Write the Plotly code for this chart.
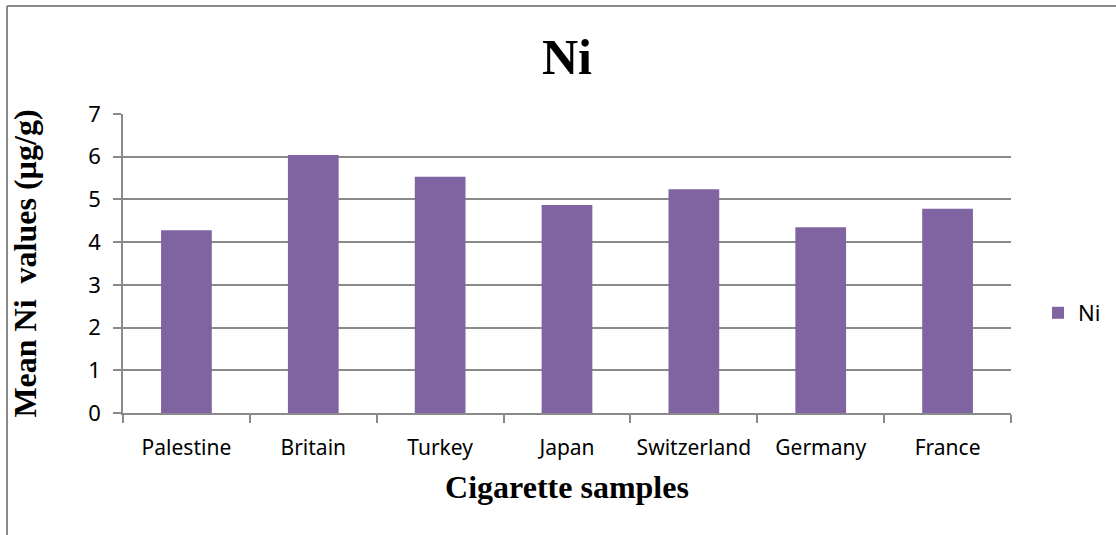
import plotly.graph_objects as go

categories = ["Palestine", "Britain", "Turkey", "Japan", "Switzerland", "Germany", "France"]
ni_values = [4.28, 6.04, 5.53, 4.87, 5.24, 4.35, 4.78]
y_ticks = [0, 1, 2, 3, 4, 5, 6, 7]

W, H = 1116, 535
ML, MR, MT, MB = 123, 105, 114, 122
pw, ph = W - ML - MR, H - MT - MB

def px_x(p):
    return (p - ML) / pw

def px_y(p):
    return (H - MB - p) / ph

fig = go.Figure()
fig.add_trace(go.Bar(
    x=categories, y=ni_values, name="Ni",
    marker=dict(color="#8064A2", line=dict(width=0)),
))

serif = "Liberation Serif, Times New Roman, serif"
sans = "Noto Sans, Open Sans, sans-serif"
grid = "#8a8a8a"

fig.update_layout(
    width=W, height=H,
    margin=dict(l=ML, r=MR, t=MT, b=MB, autoexpand=False),
    paper_bgcolor="white", plot_bgcolor="white",
    bargap=0.6,
    title=dict(text="<b>Ni</b>", x=0.5, xref="paper", xanchor="center",
               y=1 - 56 / H, yanchor="middle", yref="container",
               font=dict(family=serif, size=50, color="black")),
    xaxis=dict(
        showline=True, linecolor=grid, linewidth=1.5,
        ticks="outside", tickson="boundaries", ticklen=8, tickcolor=grid, tickwidth=1.5,
        tickangle=0, ticklabelstandoff=15,
        tickfont=dict(family=sans, size=21, color="black"),
        title=dict(text="<b>Cigarette samples</b>", standoff=16,
                   font=dict(family=serif, size=32, color="black")),
        automargin=False,
    ),
    yaxis=dict(
        range=[0, 7], tickvals=y_ticks,
        showgrid=True, gridcolor=grid, gridwidth=1.5,
        showline=True, linecolor=grid, linewidth=1.5,
        ticks="outside", ticklen=8, tickcolor=grid, tickwidth=1.5,
        ticklabelstandoff=8,
        tickfont=dict(family=sans, size=22, color="black"),
        title=dict(text="<b>Mean Ni\u00a0\u00a0values (µg/g)</b>", standoff=42,
                   font=dict(family=serif, size=32, color="black")),
        automargin=False, zeroline=False,
    ),
    showlegend=True,
    legend=dict(x=px_x(1038), xanchor="left", y=px_y(313), yanchor="middle",
                font=dict(family=sans, size=22, color="black"),
                bgcolor="rgba(0,0,0,0)"),
    shapes=[
        dict(type="line", xref="paper", yref="paper",
             x0=px_x(7), x1=px_x(7), y0=px_y(545), y1=px_y(6),
             line=dict(color="#8a8a8a", width=2)),
        dict(type="line", xref="paper", yref="paper",
             x0=px_x(7), x1=px_x(1125), y0=px_y(6), y1=px_y(6),
             line=dict(color="#8a8a8a", width=2)),
    ],
)

fig.write_html("out.html")
